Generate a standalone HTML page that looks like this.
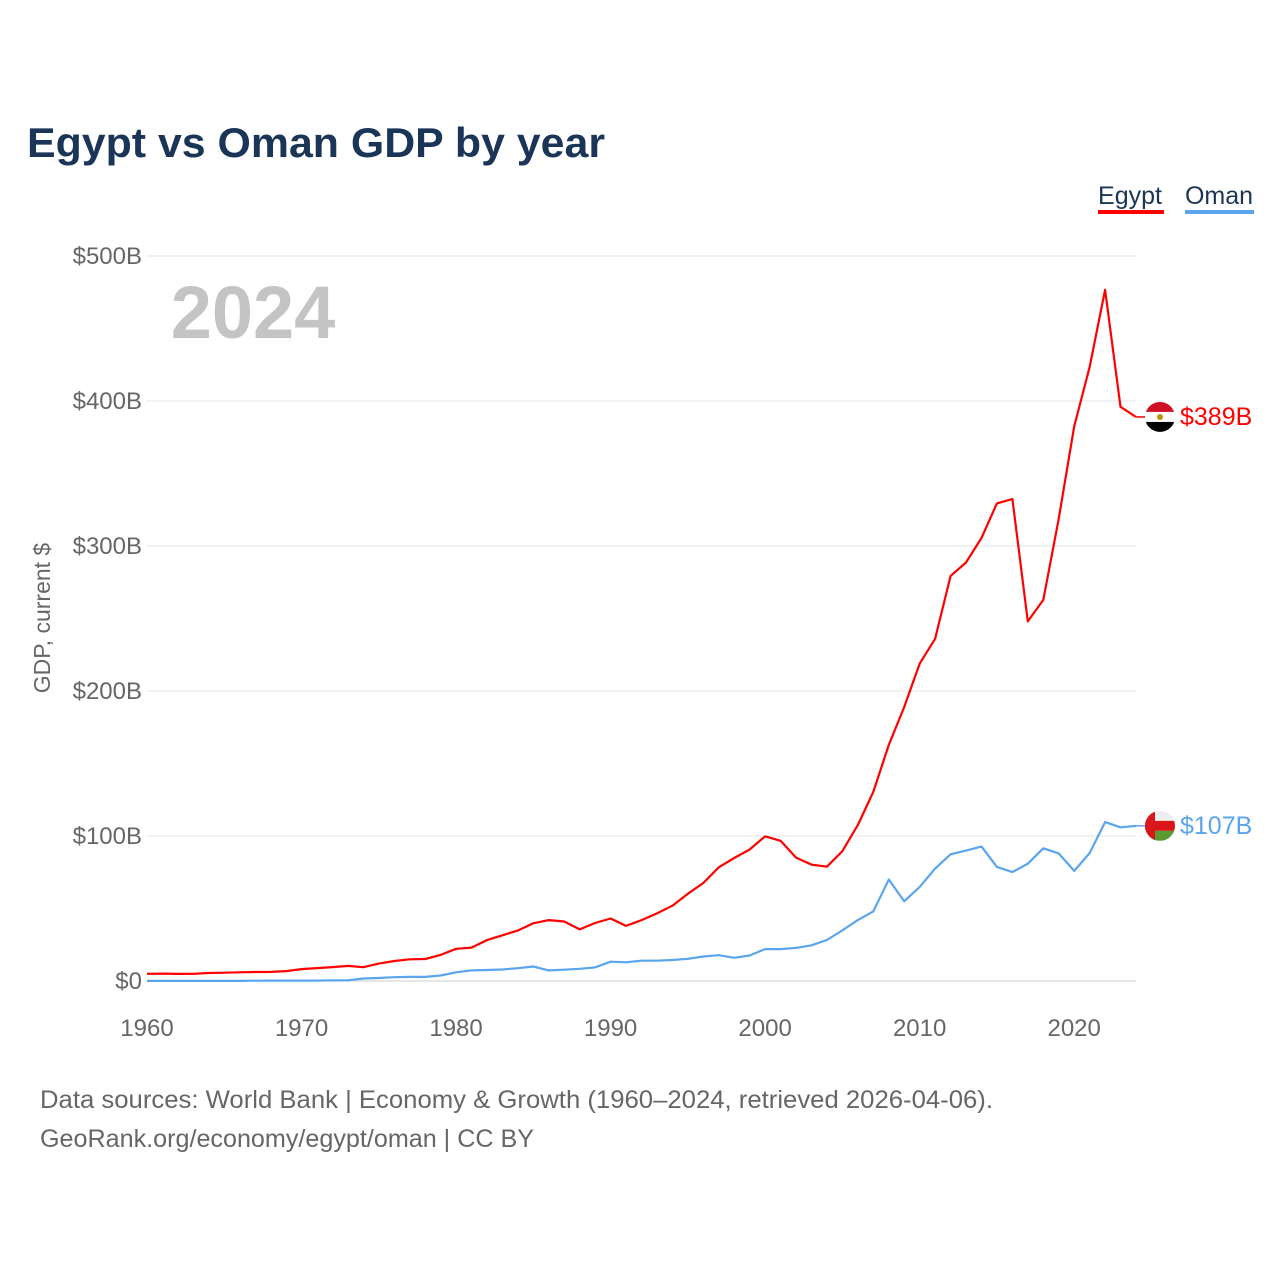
<!DOCTYPE html>
<html><head><meta charset="utf-8"><style>
body{margin:0;background:#fff;font-family:"Liberation Sans",sans-serif}
#wrap{position:relative;width:1280px;height:1280px;overflow:hidden}
</style></head><body>
<div id="wrap">
<svg id="chart" width="1280" height="1280" style="font-family:'Liberation Sans',sans-serif">
<text x="27" y="157" font-size="42" font-weight="bold" fill="#1b3558" textLength="578" lengthAdjust="spacingAndGlyphs">Egypt vs Oman GDP by year</text>
<g>
<text x="1130" y="204" font-size="25" fill="#1b3558" text-anchor="middle">Egypt</text>
<rect x="1098" y="210" width="66" height="4" fill="#ff0000"/>
<text x="1219" y="204" font-size="25" fill="#1b3558" text-anchor="middle">Oman</text>
<rect x="1185" y="210" width="69" height="4" fill="#5aa5ee"/>
</g>
<text x="253" y="338" font-size="74" font-weight="bold" fill="#c4c4c4" text-anchor="middle">2024</text>
<text transform="translate(50,618) rotate(-90)" font-size="23" fill="#666" text-anchor="middle">GDP, current $</text>
<g id="grid"></g><g id="xt"></g><g id="lines"></g><g id="ends"></g>
<text x="40" y="1108" font-size="25" fill="#666" textLength="953" lengthAdjust="spacingAndGlyphs">Data sources: World Bank | Economy &amp; Growth (1960–2024, retrieved 2026-04-06).</text>
<text x="40" y="1147" font-size="25" fill="#666" textLength="494" lengthAdjust="spacingAndGlyphs">GeoRank.org/economy/egypt/oman | CC BY</text>
</svg></div>
<script>
const startYear=1960;
const egypt=[5,5.1,4.9,5,5.5,5.7,6,6.2,6.3,6.8,8.2,8.9,9.6,10.4,9.5,12,13.8,15,15.2,18,22.2,23,28.2,31.5,34.8,39.8,42,41,35.6,40,43.1,38,42,46.6,51.9,60.2,67.6,78.4,84.8,90.7,99.8,96.7,85.1,80.3,78.8,89.6,107.5,130.4,162.8,189,218.9,236,279.4,288.6,305.6,329.4,332.4,248,262.8,318.7,382.5,423.3,476.7,396,389];
const oman=[0.05,0.05,0.06,0.06,0.07,0.08,0.1,0.2,0.3,0.3,0.3,0.3,0.4,0.5,1.7,2.1,2.6,2.8,2.8,3.8,6,7.3,7.6,7.9,8.8,10,7.3,7.8,8.4,9.4,13.3,12.9,14,14,14.5,15.3,16.9,17.8,16,17.6,22,22,22.8,24.6,28.3,35,42,48,70,55,64.9,77.5,87.4,89.9,92.7,78.7,75.1,80.9,91.5,88,75.9,88.2,109.6,106,107];
const yTicks=[0,100,200,300,400,500];
const yTickLabels=["$0","$100B","$200B","$300B","$400B","$500B"];
const xTicks=[1960,1970,1980,1990,2000,2010,2020];
const NS="http://www.w3.org/2000/svg";
const X=y=>147+(y-1960)*(1136-147)/64;
const Y=v=>981-v*(981-256)/500;
function mk(t,a,p){const e=document.createElementNS(NS,t);for(const k in a)e.setAttribute(k,a[k]);p.appendChild(e);return e;}
const grid=document.getElementById('grid');
yTicks.forEach((v,i)=>{
 const l=mk('line',{x1:147,x2:1136,y1:Y(v),y2:Y(v),stroke:v===0?'#ccc':'#e6e6e6','stroke-width':1},grid);
 
 
 const t=mk('text',{x:142,y:Y(v)+8,'font-size':24,fill:'#666','text-anchor':'end'},grid);
 t.textContent=yTickLabels[i];
 
 
});
const xt=document.getElementById('xt');
xTicks.forEach(y=>{
 const t=mk('text',{x:X(y),y:1036,'font-size':24,fill:'#666','text-anchor':'middle'},xt);
 t.textContent=y;
 
 
});
const lines=document.getElementById('lines');
function series(d,c,n){
 const p=mk('path',{d:d.map((v,i)=>(i?'L':'M')+X(startYear+i).toFixed(1)+','+Y(v).toFixed(1)).join(''),fill:'none',stroke:c,'stroke-width':2.2,'stroke-linejoin':'round'},lines);
 
 
}
series(oman,'#5aa5ee','oman-line');
series(egypt,'#ff0000','egypt-line');
const ends=document.getElementById('ends');
function endLabel(d,c,n,flag){
 const v=d[d.length-1],x=X(startYear+d.length-1),y=Y(v);
 mk('line',{x1:x,y1:y,x2:1150,y2:y,stroke:c,'stroke-width':1.5},ends);
 const g=mk('g',{},ends);
 
 
 const cid='clip'+n;
 const cp=mk('clipPath',{id:cid},g);mk('circle',{cx:1160,cy:y,r:15},cp);
 const f=mk('g',{'clip-path':'url(#'+cid+')'},g);
 flag(f,y);
 const t=mk('text',{x:1180,y:y+8,'font-size':25,fill:c},ends);
 t.textContent='$'+Math.round(v)+'B';
 
 
}
endLabel(egypt,'#ff0000','egypt',(f,y)=>{
 mk('rect',{x:1145,y:y-15,width:30,height:10,fill:'#ce1126'},f);
 mk('rect',{x:1145,y:y-5,width:30,height:10,fill:'#fff'},f);
 mk('rect',{x:1145,y:y+5,width:30,height:10,fill:'#000'},f);
 mk('circle',{cx:1160,cy:y,r:3,fill:'#c09300'},f);
});
endLabel(oman,'#5aa5ee','oman',(f,y)=>{
 mk('rect',{x:1145,y:y-15,width:30,height:10,fill:'#eee'},f);
 mk('rect',{x:1145,y:y-5,width:30,height:10,fill:'#db161b'},f);
 mk('rect',{x:1145,y:y+5,width:30,height:10,fill:'#5a9a32'},f);
 mk('rect',{x:1145,y:y-15,width:10,height:30,fill:'#db161b'},f);
});
</script>
</body></html>
